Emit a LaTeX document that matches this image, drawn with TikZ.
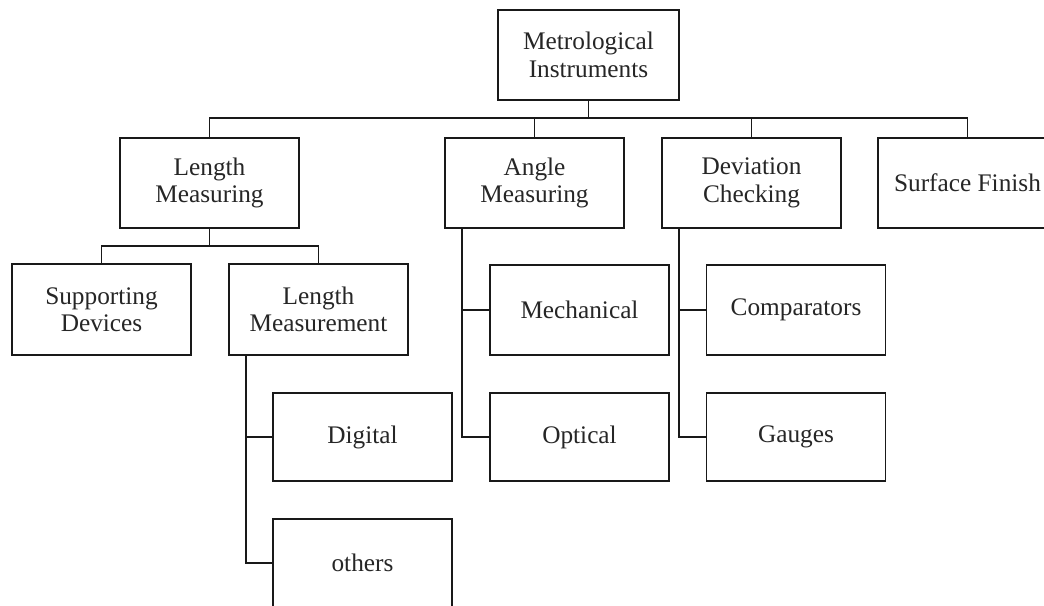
\documentclass[tikz,border=0pt]{standalone}
\usepackage{fontspec}
\setmainfont{Liberation Serif}
\begin{document}
\begin{tikzpicture}[x=1pt,y=-1pt,
  box/.style={draw=black!90, line width=1.8pt, rectangle, minimum width=179pt, minimum height=90pt,
    inner sep=0pt, align=center, text=black!85, font=\fontsize{25.3}{27.5}\selectfont},
  conn/.style={draw=black!90, line width=1.8pt}]
\useasboundingbox (0,0) rectangle (1044,605);
\clip (0,0) rectangle (1044,605);
\fill[white] (0,0) rectangle (1044,605);
\node[box, minimum width=181pt] (top) at (588.5,55) {Metrological\\Instruments};
\node[box] (len) at (209.5,183) {Length\\Measuring};
\node[box] (ang) at (534.5,183) {Angle\\Measuring};
\node[box] (dev) at (751.5,183) {Deviation\\Checking};
\node[box] (surf) at (967.5,183) {Surface Finish};
\node[box, minimum height=91pt] (sup) at (101.5,309.5) {Supporting\\Devices};
\node[box, minimum height=91pt] (lmt) at (318.5,309.5) {Length\\Measurement};
\node[box, minimum height=88pt] (dig) at (362.5,437) {Digital};
\node[box, minimum height=88pt] (oth) at (362.5,563) {others};
\node[box] (mech) at (579.5,310) {Mechanical};
\node[box, minimum height=88pt] (opt) at (579.5,437) {Optical};
\node[box] (comp) at (796,310) {Comparators};
\node[box, minimum height=88pt] (gau) at (796,437) {Gauges};
\coordinate (bus) at (588.5,118);
\coordinate (bus2) at (209.5,246);
\draw[conn] (top.south) -- (top.south |- bus);
\draw[conn] (len.north) |- (bus) -| (surf.north);
\draw[conn] (ang.north) -- (ang.north |- bus);
\draw[conn] (dev.north) -- (dev.north |- bus);
\draw[conn] (len.south) -- (len.south |- bus2);
\draw[conn] (sup.north) |- (bus2) -| (lmt.north);
\draw[conn] ([xshift=18pt]lmt.south west) |- (oth.west);
\draw[conn] ([xshift=18pt]lmt.south west) |- (dig.west);
\draw[conn] ([xshift=18pt]ang.south west) |- (opt.west);
\draw[conn] ([xshift=18pt]ang.south west) |- (mech.west);
\draw[conn] ([xshift=18pt]dev.south west) |- (gau.west);
\draw[conn] ([xshift=18pt]dev.south west) |- (comp.west);
\end{tikzpicture}
\end{document}
